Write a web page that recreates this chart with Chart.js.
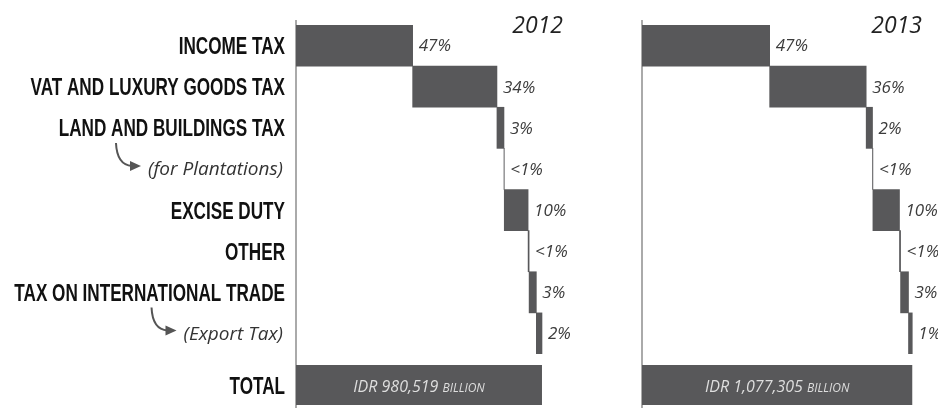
<!DOCTYPE html>
<html>
<head>
<meta charset="utf-8">
<script src="https://cdn.jsdelivr.net/npm/chart.js@4"></script>
<style>
  html, body { margin: 0; padding: 0; background: #fff; overflow: hidden; }
  #wrap { position: relative; width: 938px; height: 408px; overflow: hidden; }
  canvas { position: absolute; top: 0; }
  #c2012 { left: 0; }
  #c2013 { left: 600px; }
</style>
</head>
<body>
<div id="wrap">
  <canvas id="c2012" width="600" height="420"></canvas>
  <canvas id="c2013" width="338" height="420"></canvas>
</div>
<script>
// tax revenue by source, IDR billion
const categories = ["INCOME TAX", "VAT AND LUXURY GOODS TAX", "LAND AND BUILDINGS TAX", "(for Plantations)",
  "EXCISE DUTY", "OTHER", "TAX ON INTERNATIONAL TRADE", "(Export Tax)"];
const totalLabel = ["TOTAL"];
const values2012 = [465000, 336000, 28000, 1200, 95000, 4000, 28800, 22519];
const values2013 = [508905, 384700, 25300, 1500, 106000, 4300, 31600, 15000];
const shares2012 = ["47%", "34%", "3%", "<1%", "10%", "<1%", "3%", "2%"];
const shares2013 = ["47%", "36%", "2%", "<1%", "10%", "<1%", "3%", "1%"];
const total2012 = 980519;
const total2013 = 1077305;
const unit = "BILLION";

const X_MAX = 1148000;
const BAR = "#58585a";
const MAIN_FONT = "bold 23px 'Liberation Sans'";
const SUB_FONT = "italic 19px 'Open Sans'";
const SQUEEZE = 0.745; // condensed look for the row titles

function isSub(label) {
  return label.startsWith("(");
}

// waterfall: each bar floats from the running total
function steps(values) {
  let run = 0;
  return values.map(v => {
    const start = run;
    run += v;
    return [start, run];
  });
}

function drawRowLabel(ctx, label, right, y) {
  if (isSub(label)) {
    ctx.font = SUB_FONT;
    ctx.fillStyle = "#333";
    ctx.textAlign = "right";
    ctx.textBaseline = "middle";
    ctx.fillText(label, right - 2, y + 1);
    return ctx.measureText(label).width + 2;
  }
  ctx.save();
  ctx.font = MAIN_FONT;
  ctx.fillStyle = "#111";
  ctx.textAlign = "right";
  ctx.textBaseline = "alphabetic";
  ctx.scale(SQUEEZE, 1);
  ctx.fillText(label, right / SQUEEZE, y + 8.5);
  ctx.restore();
  return 0;
}

const decor = {
  id: "decor",
  beforeDatasetsDraw(chart) {
    const ctx = chart.ctx;
    ctx.save();
    ctx.strokeStyle = "#8e8e8e";
    ctx.lineWidth = 1.5;
    ctx.beginPath();
    ctx.moveTo(chart.chartArea.left, 20);
    ctx.lineTo(chart.chartArea.left, chart.height);
    ctx.stroke();
    ctx.restore();
  },
  afterDatasetsDraw(chart, args, opts) {
    const ctx = chart.ctx;
    const area = chart.chartArea;
    ctx.save();

    // percentage labels right of each step
    ctx.font = "italic 17px 'Open Sans'";
    ctx.fillStyle = "#3c3c3c";
    ctx.textAlign = "left";
    ctx.textBaseline = "middle";
    chart.getDatasetMeta(0).data.forEach((bar, i) => {
      ctx.fillText(opts.shares[i], Math.max(bar.x, bar.base) + 6, bar.y + 1);
    });

    // total text inside the bar
    const tb = chart.getDatasetMeta(1).data[0];
    const main = "IDR " + opts.total.toLocaleString("en-US") + " ";
    ctx.textBaseline = "alphabetic";
    ctx.font = "italic 16px 'Open Sans'";
    const w1 = ctx.measureText(main).width;
    ctx.font = "italic 12px 'Open Sans'";
    const w2 = ctx.measureText(unit).width;
    const x = (tb.x + tb.base) / 2 - (w1 + w2) / 2;
    ctx.fillStyle = "#dedede";
    ctx.font = "italic 16px 'Open Sans'";
    ctx.fillText(main, x, tb.y + 7);
    ctx.font = "italic 12px 'Open Sans'";
    ctx.fillText(unit, x + w1, tb.y + 7);

    // year
    ctx.font = "italic 23px 'Open Sans'";
    ctx.fillStyle = "#222";
    ctx.textAlign = "right";
    ctx.fillText(opts.year, area.right - opts.yearInset, 33);

    // row titles and curved arrows pointing at the sub rows
    if (opts.showLabels) {
      const yScale = chart.scales.y;
      const right = area.left - 11;
      categories.forEach((label, i) => {
        const y = yScale.getPixelForTick(i);
        const w = drawRowLabel(ctx, label, right, y);
        if (!w) return;
        const tx = right - w - 7, ty = y - 3;
        ctx.strokeStyle = "#555";
        ctx.fillStyle = "#555";
        ctx.lineWidth = 2;
        ctx.beginPath();
        ctx.moveTo(tx - 25, ty - 23);
        ctx.quadraticCurveTo(tx - 24, ty - 1, tx - 9, ty);
        ctx.stroke();
        ctx.beginPath();
        ctx.moveTo(tx, ty);
        ctx.lineTo(tx - 11, ty - 5);
        ctx.lineTo(tx - 11, ty + 5);
        ctx.closePath();
        ctx.fill();
      });
      const tScale = chart.scales.yTotal;
      totalLabel.forEach((label, i) => drawRowLabel(ctx, label, right, tScale.getPixelForTick(i)));
    }
    ctx.restore();
  }
};

function makeChart(canvasId, year, values, shares, total, showLabels, axisWidth, padRight, yearInset) {
  new Chart(document.getElementById(canvasId), {
    type: "bar",
    data: {
      datasets: [
        { data: steps(values), yAxisID: "y", backgroundColor: BAR, grouped: false,
          barPercentage: 1, categoryPercentage: 1 },
        { data: [[0, total]], yAxisID: "yTotal", backgroundColor: BAR, grouped: false,
          barPercentage: 0.645, categoryPercentage: 1 }
      ]
    },
    options: {
      indexAxis: "y",
      responsive: false,
      animation: false,
      layout: { padding: { top: 25, bottom: 4, left: 0, right: padRight } },
      plugins: {
        legend: { display: false },
        tooltip: { enabled: false },
        decor: { year: year, shares: shares, total: total, showLabels: showLabels, yearInset: yearInset }
      },
      scales: {
        x: { display: false, min: 0, max: X_MAX },
        y: {
          axis: "y", type: "category", position: "left", labels: categories, offset: true,
          stack: "rows", stackWeight: 329, weight: 1,
          grid: { display: false, drawTicks: false },
          border: { display: false },
          ticks: { display: false },
          afterFit: s => { s.width = axisWidth; }
        },
        yTotal: {
          axis: "y", type: "category", position: "left", labels: totalLabel, offset: true,
          stack: "rows", stackWeight: 62, weight: 0,
          grid: { display: false, drawTicks: false },
          border: { display: false },
          ticks: { display: false },
          afterFit: s => { s.width = axisWidth; }
        }
      }
    },
    plugins: [decor]
  });
}

makeChart("c2012", "2012", values2012, shares2012, total2012, true, 296, 16, 21);
makeChart("c2013", "2013", values2013, shares2013, total2013, false, 42, 8, 8);
</script>
</body>
</html>
